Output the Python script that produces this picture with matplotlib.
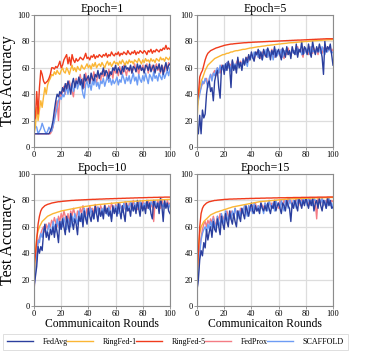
import numpy as np
import matplotlib
matplotlib.use("Agg")
import matplotlib.pyplot as plt

plt.rcParams['font.family'] = ['Liberation Serif', 'DejaVu Serif']

methods = ["FedAvg", "RingFed-1", "RingFed-5", "FedProx", "SCAFFOLD"]
colors = ["#2b3f9e", "#fbb634", "#f03b1c", "#f47c84", "#6d9cf4"]
titles = ["Epoch=1", "Epoch=5", "Epoch=10", "Epoch=15"]

# ---------------- Epoch=1 ----------------
fedavg_e1 = [10,10,10,10,10,10,10,10,10,10, 10,10,12,15,20,28,35,40,38,42, 40,45,42,48,44,50,46,40,48,52, 45,50,48,53,47,51,44,55,50,52, 54,48,56,52,50,55,53,58,52,56, 55,60,54,58,56,52,57,55,60,58, 62,56,60,58,55,61,57,63,59,60, 58,62,56,61,60,57,63,59,62,58, 60,56,62,61,58,63,57,60,62,56, 61,59,63,57,62,55,60,64,58,62, 63]
ringfed1_e1 = [10,15,30,20,28,35,30,38,45,40, 47,50,52,55,54,57,55,58,56,55, 58,60,57,56,60,58,55,59,62,58, 60,57,61,59,58,62,60,59,61,63, 60,62,59,63,61,64,60,62,63,61, 64,62,60,63,65,62,64,61,63,65, 63,64,62,65,63,66,64,62,65,63, 66,64,65,63,66,65,64,67,65,63, 66,64,67,65,66,64,67,65,66,64, 67,66,65,68,66,67,65,68,67,66, 68]
ringfed5_e1 = [20,22,42,25,45,58,55,50,48,49, 50,52,55,60,60,59,61,60,62,65, 60,62,66,68,70,63,68,62,70,66, 64,67,65,66,68,67,66,68,71,67, 68,66,69,68,70,67,69,68,70,69, 68,70,69,71,68,70,69,72,70,69, 71,70,72,69,71,70,72,71,70,73, 71,70,72,71,73,70,72,71,73,72, 71,73,72,70,73,72,74,71,73,72, 74,73,72,74,73,75,74,77,74,75, 74]
fedprox_e1 = [10,10,10,10,10,10,10,10,10,10, 10,10,10,12,15,22,30,35,20,40, 38,42,46,40,48,44,50,45,42,38, 48,52,46,50,55,48,52,45,56,50, 53,48,55,50,57,52,49,56,54,50, 57,53,58,55,51,59,54,57,52,60, 56,58,54,61,57,55,62,58,54,60, 57,61,56,59,63,57,60,55,61,58, 62,57,60,63,56,61,58,62,57,60, 63,58,61,56,62,60,57,63,59,64, 62]
scaffold_e1 = [15,16,15,10,12,14,18,15,12,10, 12,15,13,12,16,20,25,30,35,38, 36,40,38,42,45,40,47,43,48,42, 45,50,44,48,52,46,40,37,47,50, 45,48,43,50,47,52,46,49,44,50, 48,52,46,50,54,49,52,47,51,48, 50,53,47,51,49,55,52,48,53,50, 54,48,52,56,50,53,47,55,51,49, 54,50,56,52,48,55,53,50,57,52, 54,50,56,53,51,57,52,55,58,54, 60]

# ---------------- Epoch=5 ----------------
fedavg_e5 = [10,10,24,10,28,22,25,40,48,50, 42,45,35,50,55,58,45,37,60,62, 55,63,58,65,60,45,66,58,62,56, 68,60,64,58,66,62,68,64,70,66, 72,68,65,72,70,74,67,72,66,74, 70,68,75,72,66,73,70,76,68,72, 74,70,66,75,72,68,76,70,73,67, 76,72,70,78,68,74,72,80,70,76, 74,70,78,72,68,80,74,70,76,72, 78,74,68,55,80,72,76,74,78,70, 62]
ringfed1_e5 = [20,38,45,50,52,55,58,60,62,63, 64,65,66,67,67.5,68,68.5,69,69.5,70, 70,70.5,71,71,71.5,72,72,72.5,72.8,73, 73,73.3,73.5,73.8,74,74,74.2,74.5,74.7,75, 75,75.2,75.4,75.6,75.8,76,76,76.2,76.4,76.5, 76.6,76.8,77,77,77.2,77.3,77.4,77.5,77.7,77.8, 78,78,78.2,78.3,78.4,78.5,78.6,78.8,78.9,79, 79,79.1,79.2,79.3,79.4,79.5,79.6,79.7,79.8,79.9, 80,80,80.1,80.2,80.3,80.4,80.5,80.5,80.6,80.7, 80.8,80.8,80.9,81,81,81.1,81.2,81.2,81.3,81.3, 81.4]
ringfed5_e5 = [35,40,53,56,58,62,66,69,71,72, 73,73.5,74,74.5,75,75.3,75.6,76,76.3,76.6, 77,77.2,77.4,77.6,77.8,78,78,78.2,78.3,78.4, 78.5,78.6,78.7,78.8,78.9,79,79,79.1,79.2,79.2, 79.3,79.4,79.4,79.5,79.5,79.6,79.6,79.7,79.7,79.8, 79.8,79.9,79.9,80,80,80,80.1,80.1,80.2,80.2, 80.3,80.3,80.4,80.4,80.5,80.5,80.6,80.6,80.7,80.7, 80.8,80.8,80.9,80.9,81,81,81,81.1,81.1,81.2, 81.2,81.3,81.3,81.4,81.4,81.5,81.5,81.6,81.6,81.7, 81.7,81.8,81.8,81.9,81.9,82,82,82,82,82, 82]
fedprox_e5 = [35,38,42,45,48,48,50,52,46,50, 55,52,56,58,54,60,58,56,62,60, 58,62,64,60,63,61,65,62,60,64, 66,63,65,62,67,64,66,68,65,67, 70,68,66,70,72,68,70,67,71,73, 69,71,68,72,70,74,71,68,73,70, 72,69,74,71,67,73,70,75,72,69, 74,71,73,70,76,72,74,71,68,75, 72,74,70,76,73,71,75,72,74,70, 76,73,71,75,74,72,76,73,75,72, 74]
scaffold_e5 = [30,35,40,45,50,48,52,50,45,52, 55,50,56,54,58,60,56,62,58,60, 62,58,64,60,62,57,65,61,63,59, 66,62,64,60,67,63,65,61,68,66, 70,67,72,69,71,68,73,70,66,72, 70,74,68,72,70,73,66,71,74,69, 72,70,74,68,73,71,75,70,72,69, 74,71,73,70,75,72,74,70,73,71, 75,72,74,70,76,72,73,71,75,72, 74,71,76,73,70,74,72,75,73,71, 72]

# ---------------- Epoch=10 ----------------
fedavg_e10 = [15,22,30,45,40,45,42,55,62,52, 56,50,58,54,60,52,62,56,48,64, 58,66,60,54,68,62,56,70,64,58, 66,62,54,68,64,70,60,72,66,62, 74,68,64,72,66,76,70,64,74,68, 72,66,76,70,74,68,72,64,76,70, 74,68,78,72,66,76,70,64,78,72, 74,68,78,72,76,70,80,74,68,78, 72,76,70,80,74,78,70,66,80,76, 74,78,70,82,76,64,80,74,78,72, 70]
ringfed1_e10 = [20,40,52,57,60,62,64,65,66,67, 68,68.5,69,69.5,70,70.3,70.6,71,71.3,71.6, 72,72.2,72.4,72.6,72.8,73,73.2,73.4,73.6,73.8, 74,74.2,74.4,74.6,74.8,75,75.1,75.3,75.5,75.6, 75.8,76,76.1,76.2,76.4,76.5,76.6,76.8,76.9,77, 77.1,77.2,77.3,77.4,77.5,77.6,77.7,77.8,77.9,78, 78.1,78.2,78.3,78.4,78.5,78.6,78.7,78.8,78.9,79, 79,79.1,79.2,79.2,79.3,79.4,79.4,79.5,79.6,79.6, 79.7,79.8,79.8,79.9,80,80,80.1,80.1,80.2,80.2, 80.3,80.3,80.4,80.4,80.5,80.5,80.6,80.6,80.7,80.7, 80.8]
ringfed5_e10 = [30,38,50,62,68,72,74,75,76,76.5, 77,77.3,77.6,78,78.2,78.4,78.6,78.8,79,79, 79.2,79.3,79.4,79.5,79.6,79.7,79.8,79.9,80,80, 80.1,80.2,80.2,80.3,80.3,80.4,80.4,80.5,80.5,80.6, 80.6,80.7,80.7,80.8,80.8,80.8,80.9,80.9,81,81, 81,81.1,81.1,81.2,81.2,81.2,81.3,81.3,81.3,81.4, 81.4,81.4,81.5,81.5,81.5,81.6,81.6,81.6,81.7,81.7, 81.7,81.8,81.8,81.8,81.9,81.9,81.9,82,82,82, 82,82.1,82.1,82.1,82.2,82.2,82.2,82.2,82.3,82.3, 82.3,82.3,82.4,82.4,82.4,82.4,82.5,82.5,82.5,82.5, 82.5]
fedprox_e10 = [10,28,35,48,52,55,58,60,56,62, 58,63,60,65,62,67,63,60,68,64, 70,66,72,68,64,70,62,72,68,74, 70,66,72,68,74,70,76,72,68,74, 70,76,72,74,70,77,73,75,71,76, 73,70,77,74,72,76,73,78,74,71, 77,75,72,78,74,76,73,79,75,72, 78,76,74,80,75,77,73,79,76,74, 80,76,78,74,80,77,75,79,64,78, 76,80,77,74,81,76,78,75,80,77, 78]
scaffold_e10 = [12,25,38,50,48,55,52,58,60,54, 57,62,58,55,64,60,56,66,62,58, 64,60,67,62,58,66,63,60,68,64, 70,66,62,72,67,64,70,74,68,65, 72,69,74,70,66,73,70,75,71,68, 74,70,76,72,69,75,71,66,74,72, 76,73,70,77,74,71,78,74,72,76, 73,79,75,72,78,74,77,73,80,76, 74,78,75,80,76,73,79,77,75,80, 76,78,74,80,77,75,79,76,78,74, 77]

# ---------------- Epoch=15 ----------------
fedavg_e15 = [12,20,35,42,38,48,44,58,50,56, 60,52,64,58,56,66,60,54,68,62, 58,70,64,60,72,66,62,70,64,60, 72,68,64,74,70,66,76,72,68,74, 78,72,70,76,72,74,70,78,74,72, 76,72,78,74,70,76,74,80,72,76, 78,74,70,78,76,72,80,76,74,64, 78,74,80,76,72,82,78,74,80,76, 82,78,74,80,76,82,72,78,80,74, 82,76,72,80,78,74,82,76,80,74, 75]
ringfed1_e15 = [20,42,55,60,62,64,65,66,67,68, 69,69.5,70,70.5,71,71.3,71.6,72,72.3,72.6, 73,73.3,73.6,74,74.3,74.6,75,75.2,75.4,75.6, 75.8,76,76.2,76.4,76.6,76.8,77,77.2,77.4,77.6, 77.8,78,78.2,78.4,78.6,78.8,79,79.1,79.2,79.3, 79.4,79.5,79.6,79.7,79.8,79.9,80,80.1,80.2,80.3, 80.4,80.5,80.6,80.7,80.8,80.9,81,81,81.1,81.1, 81.2,81.2,81.3,81.3,81.4,81.4,81.5,81.5,81.6,81.6, 81.6,81.7,81.7,81.7,81.8,81.8,81.8,81.9,81.9,81.9, 82,82,82,82,82.1,82.1,82.1,82.1,82.2,82.2, 82.2]
ringfed5_e15 = [25,40,60,70,74,76,77,78,78.5,79, 79.2,79.5,79.7,80,80,80.2,80.3,80.4,80.5,80.6, 80.7,80.8,80.8,80.9,81,81,81,81.1,81.1,81.1, 81.2,81.2,81.2,81.3,81.3,81.3,81.4,81.4,81.4,81.5, 81.5,81.5,81.5,81.6,81.6,81.6,81.6,81.7,81.7,81.7, 81.7,81.8,81.8,81.8,81.8,81.8,81.9,81.9,81.9,81.9, 82,82,82,82,82,82,82.1,82.1,82.1,82.1, 82.1,82.2,82.2,82.2,82.2,82.2,82.2,82.3,82.3,82.3, 82.3,82.3,82.3,82.4,82.4,82.4,82.4,82.4,82.4,82.5, 82.5,82.5,82.5,82.5,82.5,82.5,82.6,82.6,82.6,82.6, 82.6]
fedprox_e15 = [10,30,42,52,58,62,64,60,65,62, 66,63,68,64,60,68,65,70,66,68, 64,70,72,68,66,72,70,68,74,70, 72,68,74,70,72,76,72,70,76,74, 72,76,74,78,72,76,74,78,76,74, 78,76,74,80,76,78,74,80,76,78, 74,80,78,76,80,78,76,82,78,80, 76,80,78,82,78,80,76,82,80,78, 82,80,76,82,78,80,82,78,66,82, 80,78,82,76,80,78,82,80,78,80, 79]
scaffold_e15 = [12,25,40,50,55,58,60,56,62,58, 64,60,66,62,58,68,64,60,70,66, 62,72,68,64,70,66,72,68,74,70, 66,72,68,74,70,76,72,68,76,72, 74,70,78,74,72,76,72,78,74,70, 78,76,72,80,76,74,78,72,80,76, 78,74,80,76,72,80,78,74,82,78, 76,80,78,74,82,78,80,76,82,78, 80,76,82,78,80,76,82,80,78,76, 80,78,82,76,80,74,78,82,76,78, 74]

panels = [
    [fedavg_e1, ringfed1_e1, ringfed5_e1, fedprox_e1, scaffold_e1],
    [fedavg_e5, ringfed1_e5, ringfed5_e5, fedprox_e5, scaffold_e5],
    [fedavg_e10, ringfed1_e10, ringfed5_e10, fedprox_e10, scaffold_e10],
    [fedavg_e15, ringfed1_e15, ringfed5_e15, fedprox_e15, scaffold_e15],
]
draw_order = [3, 4, 0, 1, 2]

W, H = 371, 354
fig = plt.figure(figsize=(W / 100, H / 100), dpi=100)

boxes = [(34, 15), (197, 15), (34, 174), (197, 174)]
aw, ah = 136, 132
spine_c = "#8c8c8c"
handles = {}
for i, (px, py) in enumerate(boxes):
    ax = fig.add_axes([px / W, 1 - (py + ah) / H, aw / W, ah / H])
    for k in draw_order:
        y = panels[i][k]
        x = np.arange(len(y))
        ln, = ax.plot(x, y, color=colors[k], lw=1.0, label=methods[k])
        handles[k] = ln
    ax.set_xlim(0, 100)
    ax.set_ylim(0, 100)
    ax.set_xticks([0, 20, 40, 60, 80, 100])
    ax.set_yticks([0, 20, 40, 60, 80, 100])
    ax.grid(True, color="#dddddd", lw=0.9)
    ax.set_axisbelow(True)
    for s in ax.spines.values():
        s.set_color(spine_c)
        s.set_linewidth(0.8)
    ax.tick_params(labelsize=6, length=2, width=0.6, color=spine_c, pad=1)
    ax.set_title(titles[i], fontsize=8.6, pad=1.5)
    if i % 2 == 0:
        ax.set_ylabel("Test Accuracy", fontsize=11.5, labelpad=1)
    if i >= 2:
        ax.set_xlabel("Communicaiton Rounds", fontsize=8.4, labelpad=0)

leg = fig.legend([handles[k] for k in range(5)], methods, loc="lower left",
                 bbox_to_anchor=(3 / W, 4 / H, 345 / W, 15 / H), mode="expand",
                 ncol=5, fontsize=5.8, frameon=True, fancybox=False,
                 handlelength=3.2, borderaxespad=0, borderpad=0.5,
                 handletextpad=1.2)
leg.get_frame().set_edgecolor("#d0d0d0")
leg.get_frame().set_linewidth(0.6)

fig.savefig("out.png", dpi=100)
